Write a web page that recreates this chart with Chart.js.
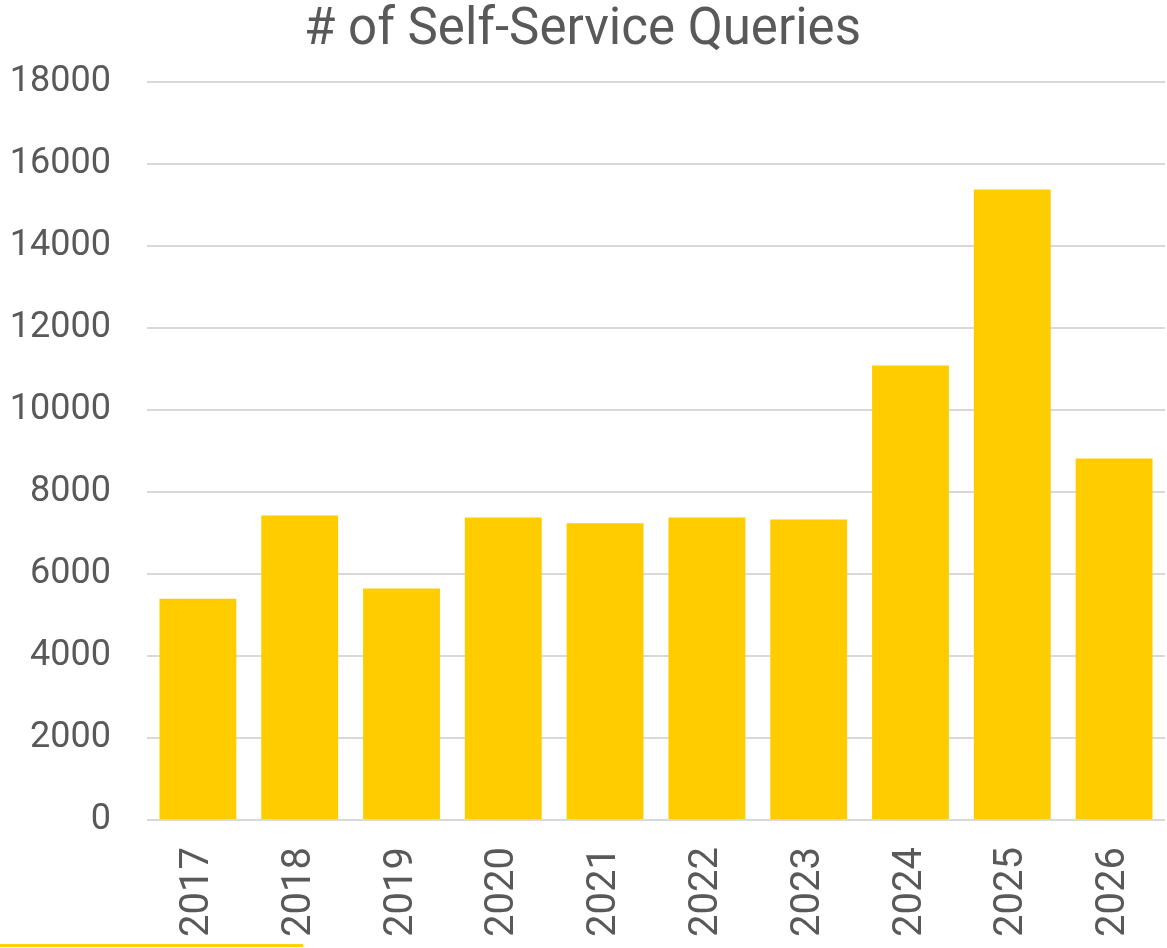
<!DOCTYPE html>
<html>
<head>
<meta charset="utf-8">
<script src="https://cdn.jsdelivr.net/npm/chart.js@4/dist/chart.umd.min.js"></script>
<style>
  html, body { margin: 0; padding: 0; background: #fff; overflow: hidden; }
  #wrap { position: relative; width: 1167px; height: 948px; }
  #strip { position: absolute; left: 0; top: 944px; width: 303px; height: 3px; background: #FFD200; }
</style>
</head>
<body>
<div id="wrap">
  <canvas id="chart" width="1167" height="948"></canvas>
  <div id="strip"></div>
</div>
<script>
// ================= DATA =================
const years = ["2017", "2018", "2019", "2020", "2021", "2022", "2023", "2024", "2025", "2026"];
const queries = [5400, 7430, 5650, 7380, 7240, 7380, 7330, 11090, 15380, 8820];
const yTicks = [0, 2000, 4000, 6000, 8000, 10000, 12000, 14000, 16000, 18000];

const textColor = "#595959";
const gridColor = "#D9D9D9";

Chart.defaults.font.family = "Roboto, 'Noto Sans', sans-serif";
Chart.defaults.color = textColor;

const ctx = document.getElementById("chart").getContext("2d");

new Chart(ctx, {
  type: "bar",
  data: {
    labels: years,
    datasets: [{
      label: "# of Self-Service Queries",
      data: queries,
      backgroundColor: "#FFCC00",
      borderWidth: 0,
      barPercentage: 0.755,
      categoryPercentage: 1
    }]
  },
  options: {
    responsive: false,
    animation: false,
    layout: { padding: { left: 0, right: 2, top: 0, bottom: 0 } },
    plugins: {
      legend: { display: false },
      tooltip: { enabled: false },
      title: {
        display: true,
        text: "# of Self-Service Queries",
        color: textColor,
        font: { size: 51, weight: "normal" },
        padding: { top: 1, bottom: 20 }
      }
    },
    scales: {
      x: {
        grid: { display: false },
        border: { display: false },
        ticks: {
          minRotation: 90,
          maxRotation: 90,
          autoSkip: false,
          padding: 19,
          color: textColor,
          font: { size: 40 }
        },
        // keep the labels running off the bottom like the original
        afterFit: s => {
          s.height = 128;
          s.paddingLeft = 0;
          s.paddingRight = 0;
        }
      },
      y: {
        min: 0,
        max: 18000,
        afterBuildTicks: s => { s.ticks = yTicks.map(v => ({ value: v })); },
        grid: { color: gridColor, lineWidth: 2, drawTicks: false },
        border: { display: false },
        ticks: {
          padding: 36,
          color: textColor,
          font: { size: 36 },
          callback: v => String(v)
        },
        afterFit: s => {
          s.width = 147;
          s.paddingTop = 0;
          s.paddingBottom = 0;
        }
      }
    }
  }
});
</script>
</body>
</html>
